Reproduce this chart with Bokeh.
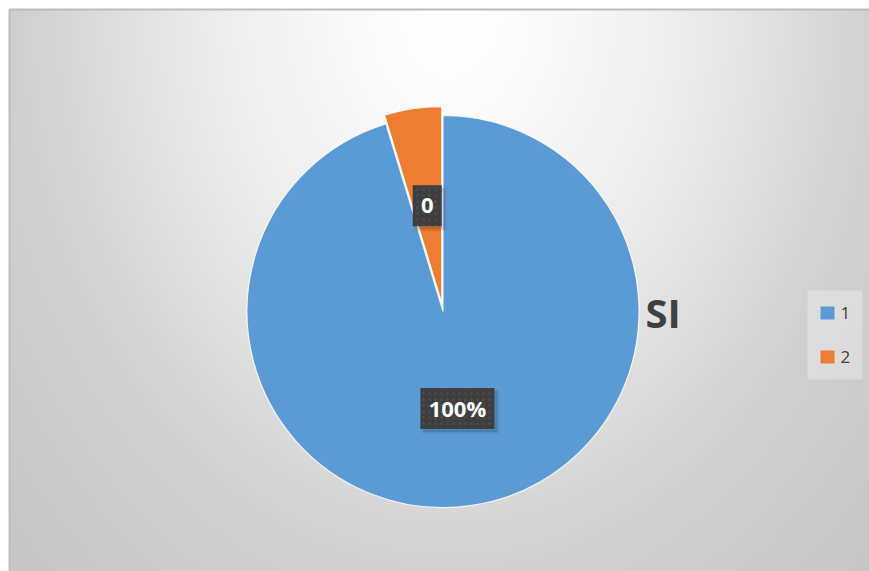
import numpy as np
from bokeh.plotting import figure
from bokeh.models import ColumnDataSource, Range1d
from bokeh.embed import file_html
from bokeh.resources import INLINE
from bokeh.core.properties import value

# ---- data ----
categories = ["1", "2"]
shares = [95.3, 4.7]
label_texts = ["100%", "0"]
colors = ["#5B9BD5", "#ED7D31"]
explode = [0.0, 9.0]
title_text = "SI"

W, H = 869, 571
TOP = float(H)  # data y = TOP - screen y
p = figure(width=W, height=H, x_range=Range1d(0, W), y_range=Range1d(0, H),
           output_backend="svg", toolbar_location=None, min_border=0,
           x_axis_location=None, y_axis_location=None)
p.grid.visible = False
p.outline_line_color = None
p.background_fill_color = "white"
p.border_fill_color = "white"

# ---- chart area with radial gradient background ----
FX0, FY0 = 9, 9  # screen position of chart area top-left
fw, fh = W - FX0, H - FY0
xs = np.arange(FX0, W) + 0.5
sys_ = TOP - (np.arange(0, fh) + 0.5)  # screen y for each row (row 0 = bottom)
X, SY = np.meshgrid(xs, sys_)
d = np.sqrt(((X - 450) / 430) ** 2 + ((SY - 10) / 560) ** 2)
drop = 47 * np.minimum(d, 1) ** 1.5 + 25 * (np.maximum(d, 1) - 1)
g = np.clip(255 - drop, 0, 255).astype(np.uint32)
img = ((255 << 24) | (g << 16) | (g << 8) | g).astype(np.uint32)
p.image_rgba(image=[img], x=FX0, y=0, dw=fw, dh=fh)
p.quad(left=[FX0], right=[W + 20], top=[TOP - FY0], bottom=[-20],
       fill_color=None, line_color="#bdbdbd", line_width=2)

# ---- pie ----
fr = np.array(shares) / sum(shares)
cum = np.concatenate([[0], np.cumsum(fr)])
start = np.pi / 2 - 2 * np.pi * cum[:-1]
end = np.pi / 2 - 2 * np.pi * cum[1:]
mid = (start + end) / 2
cx0, cy0, R = 442.5, TOP - 311.0, 196.0
ex = np.array(explode)
cx = cx0 + ex * np.cos(mid)
cy = cy0 + ex * np.sin(mid)
src = ColumnDataSource(dict(cat=categories, x=cx, y=cy, start=start, end=end, color=colors))
wr = p.wedge(x="x", y="y", radius=R, start_angle="start", end_angle="end",
             direction="clock", fill_color="color", line_color="white",
             line_width=1.2, line_alpha=0.8, source=src)

# ---- data labels ----
lx = cx + 0.5 * R * np.cos(mid)
ly = cy + 0.5 * R * np.sin(mid)
bw = [14 + 15 * len(t) for t in label_texts]
bh = [41] * len(label_texts)
lsrc = ColumnDataSource(dict(x=lx, y=ly, sx=lx + 3, sy=ly - 3, w=bw, h=bh, t=label_texts))
p.rect(x="sx", y="sy", width="w", height="h", fill_color="black", fill_alpha=0.12,
       line_color="black", line_alpha=0.07, line_width=4, source=lsrc)
p.rect(x="x", y="y", width="w", height="h", fill_color="#3e3e3e", line_color=None,
       hatch_pattern="dot", hatch_color="#555555", hatch_scale=6, hatch_alpha=0.5,
       source=lsrc)
p.text(x="x", y="y", text="t", text_align="center", text_baseline="middle",
       text_font=value("Open Sans"), text_font_style="bold", text_font_size="22px",
       text_color="white", source=lsrc)

# ---- category title ----
p.text(x=[645], y=[TOP - 312], text=[title_text], text_align="left", text_baseline="middle",
       text_font=value("Open Sans"), text_font_style="bold", text_font_size="40px",
       text_color="#404040")

# ---- legend (drawn from the category arrays) ----
p.quad(left=[807], right=[862], top=[TOP - 290], bottom=[TOP - 379],
       fill_color="#ffffff", fill_alpha=0.3, line_color=None)
n = len(categories)
leg_y = [TOP - (312.5 + 44 * i) for i in range(n)]
leg = ColumnDataSource(dict(y=leg_y, c=colors, t=categories))
p.rect(x=827, y="y", width=14, height=13, fill_color="c", line_color=None, source=leg)
p.text(x=840, y="y", text="t", text_align="left", text_baseline="middle",
       text_font=value("Open Sans"), text_font_size="17px", text_color="#404040", source=leg)

open("out.html", "w").write(file_html(p, INLINE))
